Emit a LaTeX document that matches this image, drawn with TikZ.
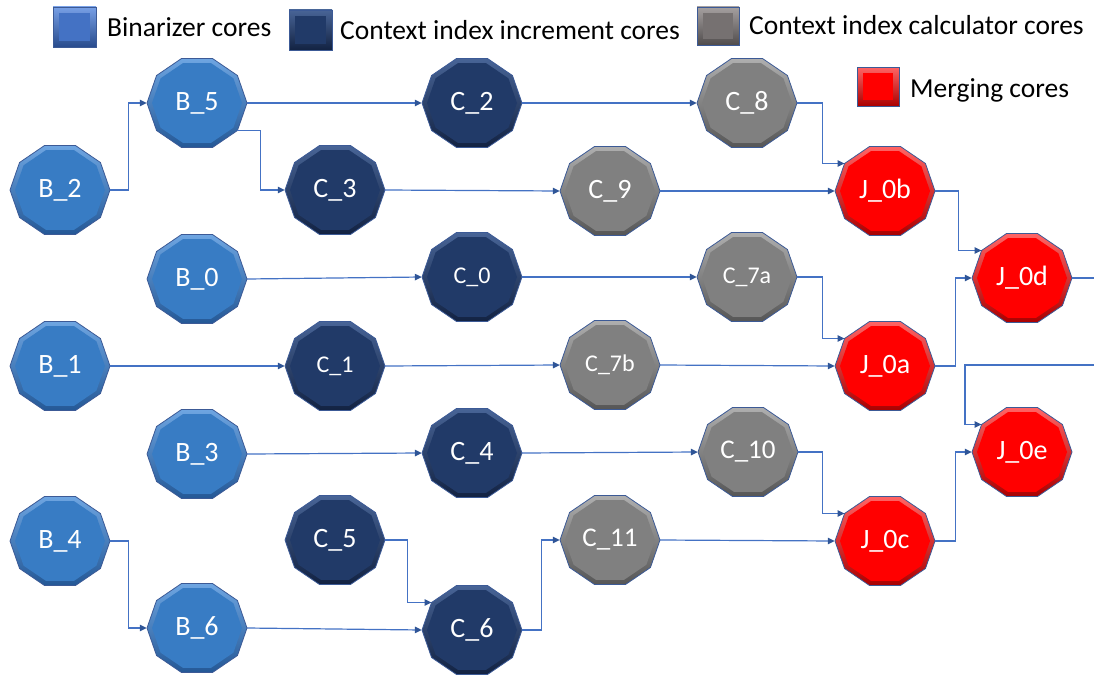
\documentclass[tikz,border=0pt]{standalone}
\usepackage{fontspec}
\setmainfont{Carlito}
\usetikzlibrary{arrows.meta}

% face and bevel colours of the four core kinds
\definecolor{bface}{RGB}{56,124,196}
\definecolor{brimtop}{RGB}{110,165,225}
\definecolor{brimbot}{RGB}{36,88,150}
\definecolor{cface}{RGB}{33,58,104}
\definecolor{crimtop}{RGB}{72,100,150}
\definecolor{crimbot}{RGB}{18,34,66}
\definecolor{gface}{RGB}{128,128,128}
\definecolor{grimtop}{RGB}{175,175,175}
\definecolor{grimbot}{RGB}{85,85,85}
\definecolor{rface}{RGB}{255,0,0}
\definecolor{rrimtop}{RGB}{255,100,100}
\definecolor{rrimbot}{RGB}{170,0,0}
\definecolor{outline}{RGB}{60,90,150}
\definecolor{wire}{RGB}{68,114,196}
\definecolor{wiretip}{RGB}{47,85,151}
% legend swatches
\definecolor{lbface}{RGB}{68,114,196}
\definecolor{lbrimtop}{RGB}{120,160,230}
\definecolor{lbrimbot}{RGB}{40,75,140}
\definecolor{lgface}{RGB}{118,113,113}
\definecolor{lgrimtop}{RGB}{165,160,160}
\definecolor{lgrimbot}{RGB}{80,76,76}

\tikzset{
  coretext/.style={shape=rectangle, minimum width=100pt, minimum height=89pt,
    inner sep=0pt, text=white},
  legtext/.style={anchor=base west, inner sep=0pt, text=black,
    font=\fontsize{27.5}{27.5}\selectfont},
  link/.style={draw=wire, line width=1.2pt,
    -{Triangle[length=7pt,width=6.5pt,color=wiretip]}},
  plain/.style={draw=wire, line width=1.2pt},
}

% decagon with a vertex on the left and right, flat top and bottom
\newcommand\decagon[2]{(0:#1 and #2) -- (36:#1 and #2) -- (72:#1 and #2)
  -- (108:#1 and #2) -- (144:#1 and #2) -- (180:#1 and #2) -- (216:#1 and #2)
  -- (252:#1 and #2) -- (288:#1 and #2) -- (324:#1 and #2) -- cycle}

% \core{name}{x}{y}{colour key}{font size}{label}
\newcommand\core[6]{%
  \begin{scope}[shift={(#2,#3)}]
    \shade[top color=#4rimtop, bottom color=#4rimbot] \decagon{50}{46.8};
    \fill[#4face] \decagon{45}{42};
    \draw[outline, line width=0.8pt] \decagon{50}{46.8};
  \end{scope}
  \node[coretext, font=\fontsize{#5}{#5}\selectfont] (#1) at (#2,#3) {#6};
  \coordinate (#1-in) at (#2-40.45,#3-27.5);
  \coordinate (#1-out) at (#2+40.45,#3+27.5);
}

% \legsq{x1}{y1}{x2}{y2}{colour key}
\newcommand\legsq[5]{%
  \shade[top color=#5rimtop, bottom color=#5rimbot] (#1,#2) rectangle (#3,#4);
  \fill[#5face] (#1+6,#2+6) rectangle (#3-6,#4-6);
  \draw[outline, line width=0.6pt] (#1,#2) rectangle (#3,#4);
}

\begin{document}
\begin{tikzpicture}[x=1pt, y=-1pt]
\useasboundingbox (0,0) rectangle (1094,677);

% legend
\legsq{53}{7}{96}{47}{lb}
\node[legtext] (lt1) at (107,37) {Binarizer cores};
\legsq{289}{10}{332}{50}{c}
\node[legtext] (lt2) at (340,40) {Context index increment cores};
\legsq{697}{7}{739}{45}{lg}
\node[legtext] (lt3) at (749,35) {Context index calculator cores};
\legsq{857}{67}{899}{106}{r}
\node[legtext] (lt4) at (910,97) {Merging cores};

% binarizer cores
\core{B2}{60}{190}{b}{28}{B\_2}
\core{B5}{197}{103}{b}{28}{B\_5}
\core{B0}{197}{279}{b}{28}{B\_0}
\core{B1}{60}{366}{b}{28}{B\_1}
\core{B3}{197}{454}{b}{28}{B\_3}
\core{B4}{60}{541}{b}{28}{B\_4}
\core{B6}{197}{628}{b}{28}{B\_6}

% context index increment cores
\core{C2}{472}{103}{c}{28}{C\_2}
\core{C3}{335}{190}{c}{28}{C\_3}
\core{C0}{472}{277}{c}{24}{C\_0}
\core{C1}{335}{366}{c}{24}{C\_1}
\core{C4}{472}{453}{c}{28}{C\_4}
\core{C5}{335}{540}{c}{28}{C\_5}
\core{C6}{472}{630}{c}{28}{C\_6}

% context index calculator cores
\core{C8}{747}{103}{g}{28}{C\_8}
\core{C9}{610}{191}{g}{28}{C\_9}
\core{C7a}{747}{277}{g}{24}{C\_7a}
\core{C7b}{610}{365}{g}{24}{C\_7b}
\core{C10}{748}{452}{g}{27}{C\_10}
\core{C11}{610}{540}{g}{27}{C\_11}

% merging cores
\core{J0b}{885}{191}{r}{28}{J\_0b}
\core{J0d}{1022}{278}{r}{28}{J\_0d}
\core{J0a}{885}{366}{r}{28}{J\_0a}
\core{J0e}{1022}{452}{r}{28}{J\_0e}
\core{J0c}{885}{541}{r}{28}{J\_0c}

% free ends at the right border
\coordinate (outd) at (1094,278);
\coordinate (ine) at (1094,365);

% connections
\draw[link] (B2.east) -- ++(18,0) |- (B5.west);
\draw[link] (B5.east) -- (C2.west);
\draw[link] (B5-out) -- ++(23,0) |- (C3.west);
\draw[link] (C2.east) -- (C8.west);
\draw[link] (C3.east) -- (C9.west);
\draw[link] (C8.east) -- ++(25,0) |- (J0b-in);
\draw[link] (C9.east) -- (J0b.west);
\draw[link] (J0b.east) -- ++(23,0) |- (J0d-in);

\draw[link] (B0.east) -- (C0.west);
\draw[link] (C0.east) -- (C7a.west);
\draw[link] (C7a.east) -- ++(25,0) |- (J0a-in);
\draw[link] (B1.east) -- (C1.west);
\draw[link] (C1.east) -- (C7b.west);
\draw[link] (C7b.east) -- (J0a.west);
\draw[link] (J0a.east) -- ++(20,0) |- (J0d.west);
\draw[plain] (J0d.east) -- (outd);
\draw[link] (ine) -- ++(-129,0) |- (J0e-in);

\draw[link] (B3.east) -- (C4.west);
\draw[link] (C4.east) -- (C10.west);
\draw[link] (C10.east) -- ++(24,0) |- (J0c-in);
\draw[link] (C11.east) -- (J0c.west);
\draw[link] (J0c.east) -- ++(20,0) |- (J0e.west);

\draw[link] (B4.east) -- ++(18,0) |- (B6.west);
\draw[link] (B6.east) -- (C6.west);
\draw[link] (C5.east) -- ++(22,0) |- (C6-in);
\draw[link] (C6.east) -- ++(19,0) |- (C11.west);
\end{tikzpicture}
\end{document}
